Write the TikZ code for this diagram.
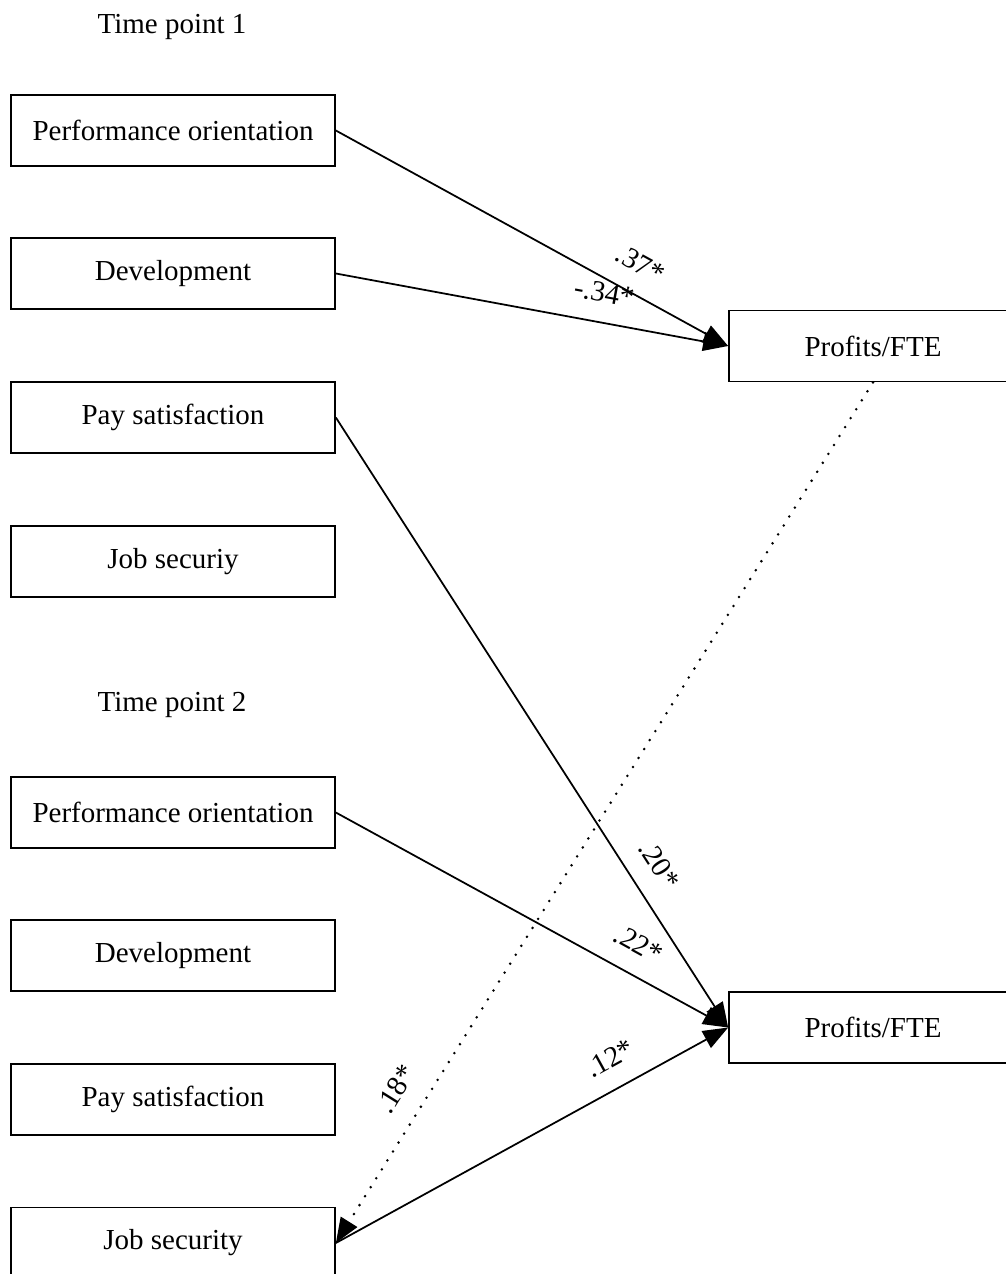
\documentclass[tikz,border=0pt]{standalone}
\usepackage{fontspec}
\setmainfont{Liberation Serif}
\usetikzlibrary{arrows.meta}

\begin{document}
\begin{tikzpicture}[x=0.02cm, y=-0.02cm,
    font=\fontsize{16.5pt}{20pt}\selectfont,
    box/.style={draw=borderColour, line width=1pt, minimum width=6.48cm, minimum height=1.42cm, inner sep=0pt},
    outcome/.style={box, minimum width=5.76cm},
    effect/.style={draw=borderColour, line width=1pt, -{Triangle[length=0.5cm, width=0.38cm]}},
    lagged/.style={effect, line width=1.6pt, line cap=round, dash pattern=on 0pt off 6pt},
    coef/.style={sloped, above=10pt, inner sep=1pt}]
    % Define colours
    \definecolor{borderColour}{HTML}{000000}

    % Fix page size
    \useasboundingbox (0,0) rectangle (1005,1274);

    % Time point 1 predictors
    \node (timeA) at (172,27) {Time point 1};
    \node[box] (perfA) at (173,130.5) {Performance orientation};
    \node[box] (devA) at (173,273.5) {Development};
    \node[box] (payA) at (173,417.5) {Pay satisfaction};
    \node[box] (jobA) at (173,561.5) {Job securiy};

    % Time point 2 predictors
    \node (timeB) at (172,705) {Time point 2};
    \node[box] (perfB) at (173,812.5) {Performance orientation};
    \node[box] (devB) at (173,955.5) {Development};
    \node[box] (payB) at (173,1099.5) {Pay satisfaction};
    \node[box] (jobB) at (173,1243) {Job security};

    % Outcomes
    \node[outcome] (profitA) at (873,346) {Profits/FTE};
    \node[outcome] (profitB) at (873,1027.5) {Profits/FTE};

    % Draw effects
    \draw[effect] (perfA.east) -- (profitA.west) node[coef, pos=0.74] {.37*};
    \draw[effect] (devA.east) -- (profitA.west) node[coef, pos=0.67] {-.34*};
    \draw[effect] (payA.east) -- (profitB.west) node[coef, pos=0.76] {.20*};
    \draw[effect] (perfB.east) -- (profitB.west) node[coef, pos=0.735] {.22*};
    \draw[effect] (jobB.east) -- (profitB.west) node[coef, pos=0.735] {.12*};
    \draw[lagged] (profitA.south) -- (jobB.east) node[coef, pos=0.84] {.18*};

\end{tikzpicture}
\end{document}
